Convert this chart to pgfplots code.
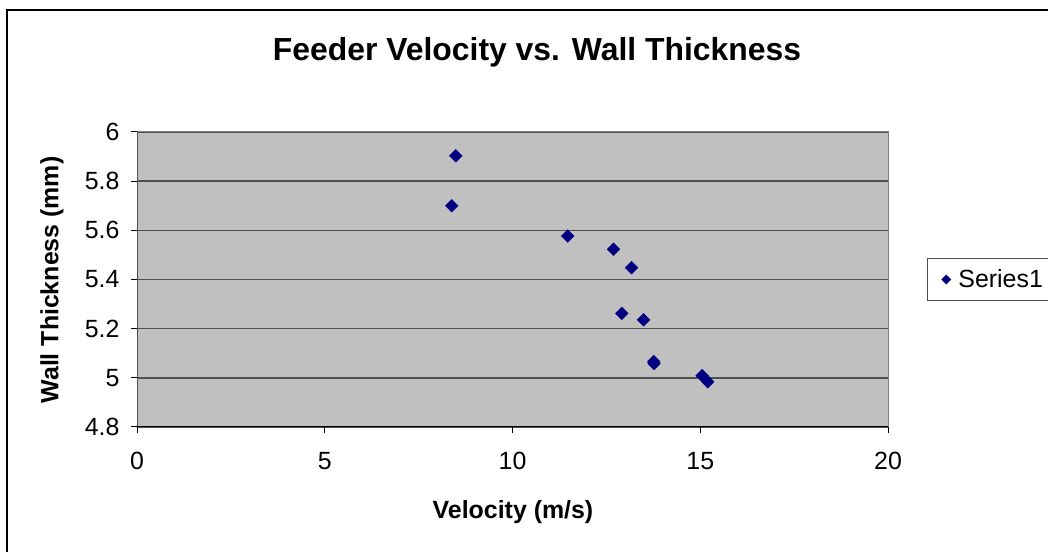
\documentclass[border=0pt]{standalone}
\usepackage{fontspec}
\setmainfont{Liberation Sans}
\usepackage{pgfplots}
\pgfplotsset{compat=1.18}
\definecolor{navy}{RGB}{0,0,128}
\definecolor{plotbg}{RGB}{192,192,192}
\definecolor{gridc}{RGB}{80,80,80}
\definecolor{framec}{RGB}{128,128,128}
\pgfdeclareplotmark{rdiamond}{%
  \pgfpathmoveto{\pgfqpoint{0pt}{\pgfplotmarksize}}%
  \pgfpathlineto{\pgfqpoint{\pgfplotmarksize}{0pt}}%
  \pgfpathlineto{\pgfqpoint{0pt}{-\pgfplotmarksize}}%
  \pgfpathlineto{\pgfqpoint{-\pgfplotmarksize}{0pt}}%
  \pgfpathclose\pgfusepathqfillstroke}
\begin{document}
\begin{tikzpicture}[x=1bp,y=1bp]
\useasboundingbox (0,0) rectangle (1048,552);
\fill[white] (0,0) rectangle (1048,552);
\draw[black, line width=1.5bp] (7,0) -- (7,542) -- (1048,542);
\node[font=\bfseries\fontsize{32}{36}\selectfont] at (537,500) {Feeder Velocity vs. Wall Thickness};
\node[font=\bfseries\fontsize{25}{30}\selectfont] at (513,40) {Velocity (m/s)};
\node[font=\bfseries\fontsize{25}{30}\selectfont, rotate=90] at (52,272) {Wall Thickness (mm)};
\begin{axis}[
  at={(137bp,125bp)}, anchor=south west,
  scale only axis, width=751bp, height=295bp,
  xmin=0, xmax=20, ymin=4.8, ymax=6,
  xtick={0,5,10,15,20},
  ytick={4.8,5.0,5.2,5.4,5.6,5.8,6.0},
  axis background/.style={fill=plotbg},
  axis line style={draw=framec, line width=1bp},
  ymajorgrids,
  major grid style={draw=gridc, line width=1.5bp},
  tick align=outside, xtick pos=bottom, ytick pos=left,
  major tick length=6bp,
  tick style={draw=black, line width=1bp},
  ticklabel style={font=\fontsize{25}{30}\selectfont},
  /pgf/number format/assume math mode=true,
  xticklabel style={yshift=-16bp},
  yticklabel style={xshift=-8bp},
  legend style={at={(1.052,0.572)}, anchor=north west, draw=black!70, line width=1bp,
    font=\fontsize{25}{29}\selectfont, inner xsep=14bp, inner ysep=9bp},
  legend image code/.code={\path (-0.15cm,0cm) (0.34cm,0cm);
    \draw[#1, mark size=4.5bp] plot[only marks] coordinates {(0cm,0cm)};},
]
\addplot[only marks, mark=rdiamond, mark options={fill=navy, draw=navy, line width=0.5bp}, mark size=6.3bp, color=navy]
  coordinates {
  (8.49,5.903)
  (8.38,5.700)
  (11.47,5.577)
  (12.69,5.523)
  (13.17,5.448)
  (12.91,5.262)
  (13.49,5.236)
  (13.76,5.066)
  (13.77,5.058)
  (15.05,5.009)
  (15.20,4.984)
  };
\addlegendentry{Series1}
\draw[gridc, line width=1.5bp] (axis cs:0,4.8) -- (axis cs:0,6);
\draw[black, line width=1.5bp] (axis cs:0,4.8) -- (axis cs:20,4.8);
\end{axis}
\end{tikzpicture}
\end{document}
